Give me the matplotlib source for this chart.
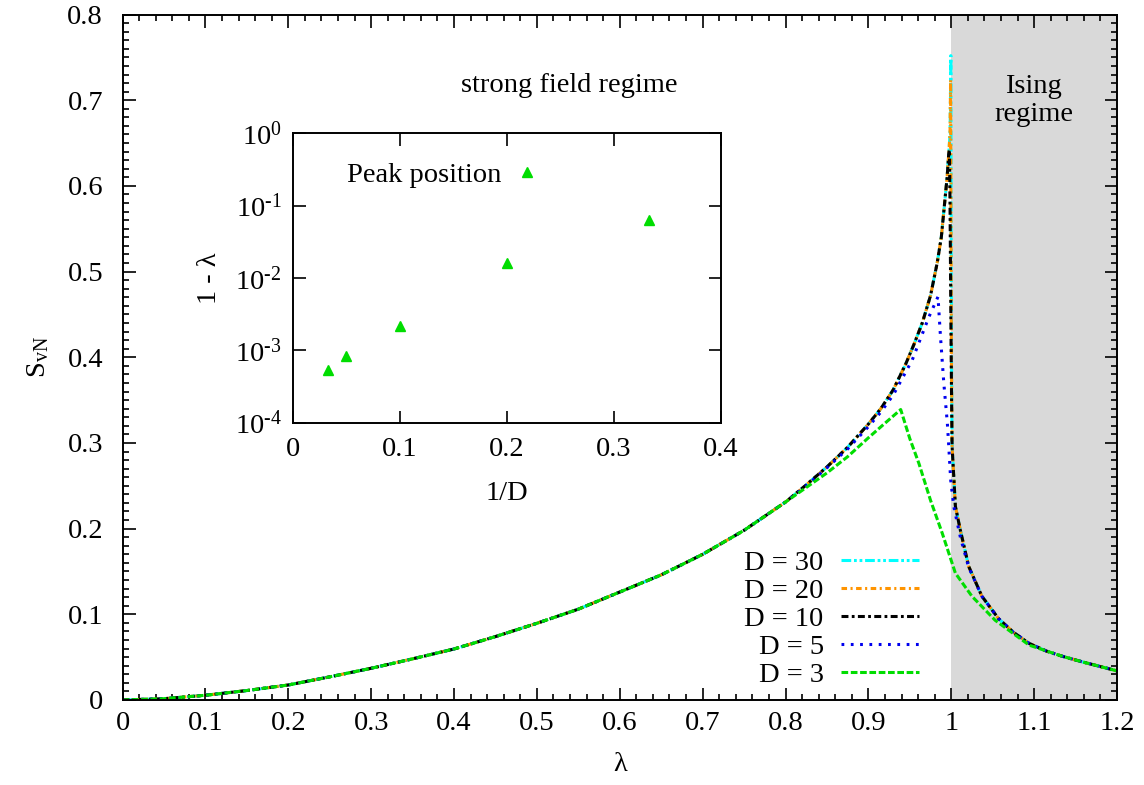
import math
import matplotlib
matplotlib.use("Agg")
import matplotlib.pyplot as plt
from matplotlib.ticker import MultipleLocator, FormatStrFormatter, FixedLocator, NullLocator, FuncFormatter

plt.rcParams['font.family'] = ['Liberation Serif', 'DejaVu Serif']
plt.rcParams['mathtext.fontset'] = 'custom'
plt.rcParams['mathtext.rm'] = 'Liberation Serif'
plt.rcParams['mathtext.it'] = 'Liberation Serif:italic'
plt.rcParams['font.size'] = 20.5
plt.rcParams['lines.scale_dashes'] = False

# common part of all curves (lambda <= 0.8)
lam_base = [0, 0.05, 0.1, 0.15, 0.2, 0.25, 0.3, 0.35, 0.4, 0.45, 0.5, 0.55,
            0.6, 0.65, 0.7, 0.75, 0.8]
s_base = [0, 0.0015, 0.0055, 0.011, 0.0175, 0.027, 0.037, 0.048, 0.0595, 0.074,
          0.0895, 0.106, 0.126, 0.146, 0.170, 0.198, 0.231]

# envelope shared by large D before the peak
lam_env = [0.825, 0.85, 0.875, 0.9, 0.915, 0.93, 0.945, 0.955, 0.965, 0.975, 0.983,
           0.988, 0.992, 0.995, 0.997]
s_env = [0.251, 0.272, 0.295, 0.322, 0.340, 0.362, 0.392, 0.415, 0.44, 0.472, 0.51,
         0.54, 0.58, 0.61, 0.638]

# common tail in the Ising regime
lam_tail = [1.037, 1.057, 1.075, 1.094, 1.115, 1.134, 1.16, 1.2]
s_tail = [0.121, 0.095, 0.079, 0.066, 0.057, 0.051, 0.044, 0.034]

lam30 = [0.9985, 0.9992, 0.9995, 0.9999, 1.0004, 1.001, 1.005, 1.011, 1.021]
s30 = [0.66, 0.715, 0.752, 0.55, 0.38, 0.296, 0.226, 0.198, 0.156]

lam20 = [0.9985, 0.9992, 0.9997, 1.0002, 1.001, 1.005, 1.011, 1.021]
s20 = [0.66, 0.7235, 0.55, 0.40, 0.296, 0.226, 0.198, 0.156]

lam10 = [0.9978, 0.9985, 0.9995, 1.0003, 1.001, 1.005, 1.011, 1.021]
s10 = [0.642, 0.58, 0.45, 0.36, 0.296, 0.226, 0.198, 0.156]

lam5 = [0.825, 0.85, 0.875, 0.9, 0.915, 0.93, 0.953, 0.973, 0.984, 0.987, 0.991,
        0.9953, 0.997, 0.9993, 1.003, 1.011, 1.021]
s5 = [0.250, 0.271, 0.293, 0.319, 0.336, 0.356, 0.397, 0.447, 0.4706, 0.424, 0.37,
      0.323, 0.296, 0.257, 0.226, 0.19, 0.155]

lam3 = [0.825, 0.85, 0.875, 0.9, 0.92, 0.939, 0.95, 0.961, 0.975, 0.989, 1.005, 1.025,
        1.053, 1.094, 1.134, 1.16, 1.2]
s3 = [0.248, 0.265, 0.284, 0.306, 0.323, 0.339, 0.305, 0.276, 0.233, 0.195, 0.148,
      0.121, 0.093, 0.064, 0.051, 0.044, 0.034]

# inset: peak position
invD = [1/30, 1/20, 1/10, 1/5, 1/3]
one_minus_lam = [5.3e-4, 8.4e-4, 2.2e-3, 1.62e-2, 6.3e-2]
inset_yticks = [1e-4, 1e-3, 1e-2, 1e-1, 1e0]

fig = plt.figure(figsize=(11.44, 7.85), dpi=100)
ax = fig.add_axes([0.1071, 0.1083, 0.8693, 0.8732])

ax.axvspan(1.0, 1.2, color='#d9d9d9', zorder=0, lw=0)

x30 = lam_base + lam_env + lam30 + lam_tail
y30 = s_base + s_env + s30 + s_tail
x20 = lam_base + lam_env + lam20 + lam_tail
y20 = s_base + s_env + s20 + s_tail
x10 = lam_base + lam_env + lam10 + lam_tail
y10 = s_base + s_env + s10 + s_tail
x5 = lam_base + lam5 + lam_tail
y5 = s_base + s5 + s_tail
x3 = lam_base + lam3
y3 = s_base + s3

lw = 2.2
ax.plot(x30, y30, color='#00ffff', lw=lw, dashes=(7, 2, 2, 2, 2, 2), label='D = 30')
ax.plot(x20, y20, color='#ff9400', lw=lw, dashes=(4, 2.5, 1.5, 2.5), label='D = 20')
ax.plot(x10, y10, color='black', lw=lw, dashes=(5, 2.4, 2, 2.4), label='D = 10')
ax.plot(x5, y5, color='#0000ee', lw=lw, dashes=(2, 4.7), label='D = 5')
ax.plot(x3, y3, color='#00dd00', lw=lw, dashes=(4.8, 1.9), label='D = 3')

ax.set_xlim(0, 1.2)
ax.set_ylim(0, 0.8)
ax.xaxis.set_major_locator(MultipleLocator(0.1))
ax.xaxis.set_minor_locator(MultipleLocator(0.02))
ax.yaxis.set_major_locator(MultipleLocator(0.1))
ax.yaxis.set_minor_locator(MultipleLocator(0.01))
ax.xaxis.set_major_formatter(FormatStrFormatter('%g'))
ax.yaxis.set_major_formatter(FormatStrFormatter('%g'))
ax.tick_params(which='both', direction='in', top=True, right=True, width=1.2)
ax.tick_params(which='major', length=9)
ax.tick_params(which='minor', length=4.5)
ax.tick_params(axis='x', pad=8)
ax.tick_params(axis='y', pad=14)
for sp in ax.spines.values():
    sp.set_linewidth(1.4)

ax.set_xlabel('λ')
ax.set_ylabel(r'S$_{\rm vN}$')
ax.xaxis.set_label_coords(0.5, -0.076)
ax.yaxis.set_label_coords(-0.072, 0.5)

ax.text(0.539, 0.7176, 'strong field regime', ha='center', va='center')
ax.text(1.0997, 0.70, 'Ising\nregime', ha='center', va='center', linespacing=1.15)

leg = ax.legend(loc='lower right', bbox_to_anchor=(0.801, 0.018), frameon=False,
                markerfirst=False, handlelength=2.75, handletextpad=0.6,
                labelspacing=0.07, borderpad=0, borderaxespad=0)

# inset
axi = fig.add_axes([0.2559, 0.4615, 0.3741, 0.3687])
axi.semilogy(invD, one_minus_lam, ls='none', marker='^', ms=7.5, color='#00dd00',
             label='Peak position')
axi.set_xlim(0, 0.4)
axi.set_ylim(1e-4, 1)
axi.xaxis.set_major_locator(MultipleLocator(0.1))
axi.xaxis.set_major_formatter(FormatStrFormatter('%g'))
axi.yaxis.set_major_locator(FixedLocator(inset_yticks))
axi.yaxis.set_minor_locator(NullLocator())


def pow10(v, pos):
    e = int(round(math.log10(v)))
    return r'10$^{\text{%s}}$' % ('-%d' % -e if e < 0 else '%d' % e)


axi.yaxis.set_major_formatter(FuncFormatter(pow10))
axi.tick_params(which='both', direction='in', top=True, right=True, length=9, width=1.2)
axi.tick_params(axis='x', pad=10)
axi.tick_params(axis='y', pad=8)
for sp in axi.spines.values():
    sp.set_linewidth(1.4)
axi.set_xlabel('1/D')
axi.set_ylabel('1 - λ')
axi.xaxis.set_label_coords(0.5, -0.2)
axi.yaxis.set_label_coords(-0.165, 0.5)
axi.legend(loc='center right', bbox_to_anchor=(0.58, 0.856), frameon=False,
           markerfirst=False, handlelength=1.0, handletextpad=0.4,
           borderpad=0, borderaxespad=0)

fig.savefig('out.png', dpi=100)
